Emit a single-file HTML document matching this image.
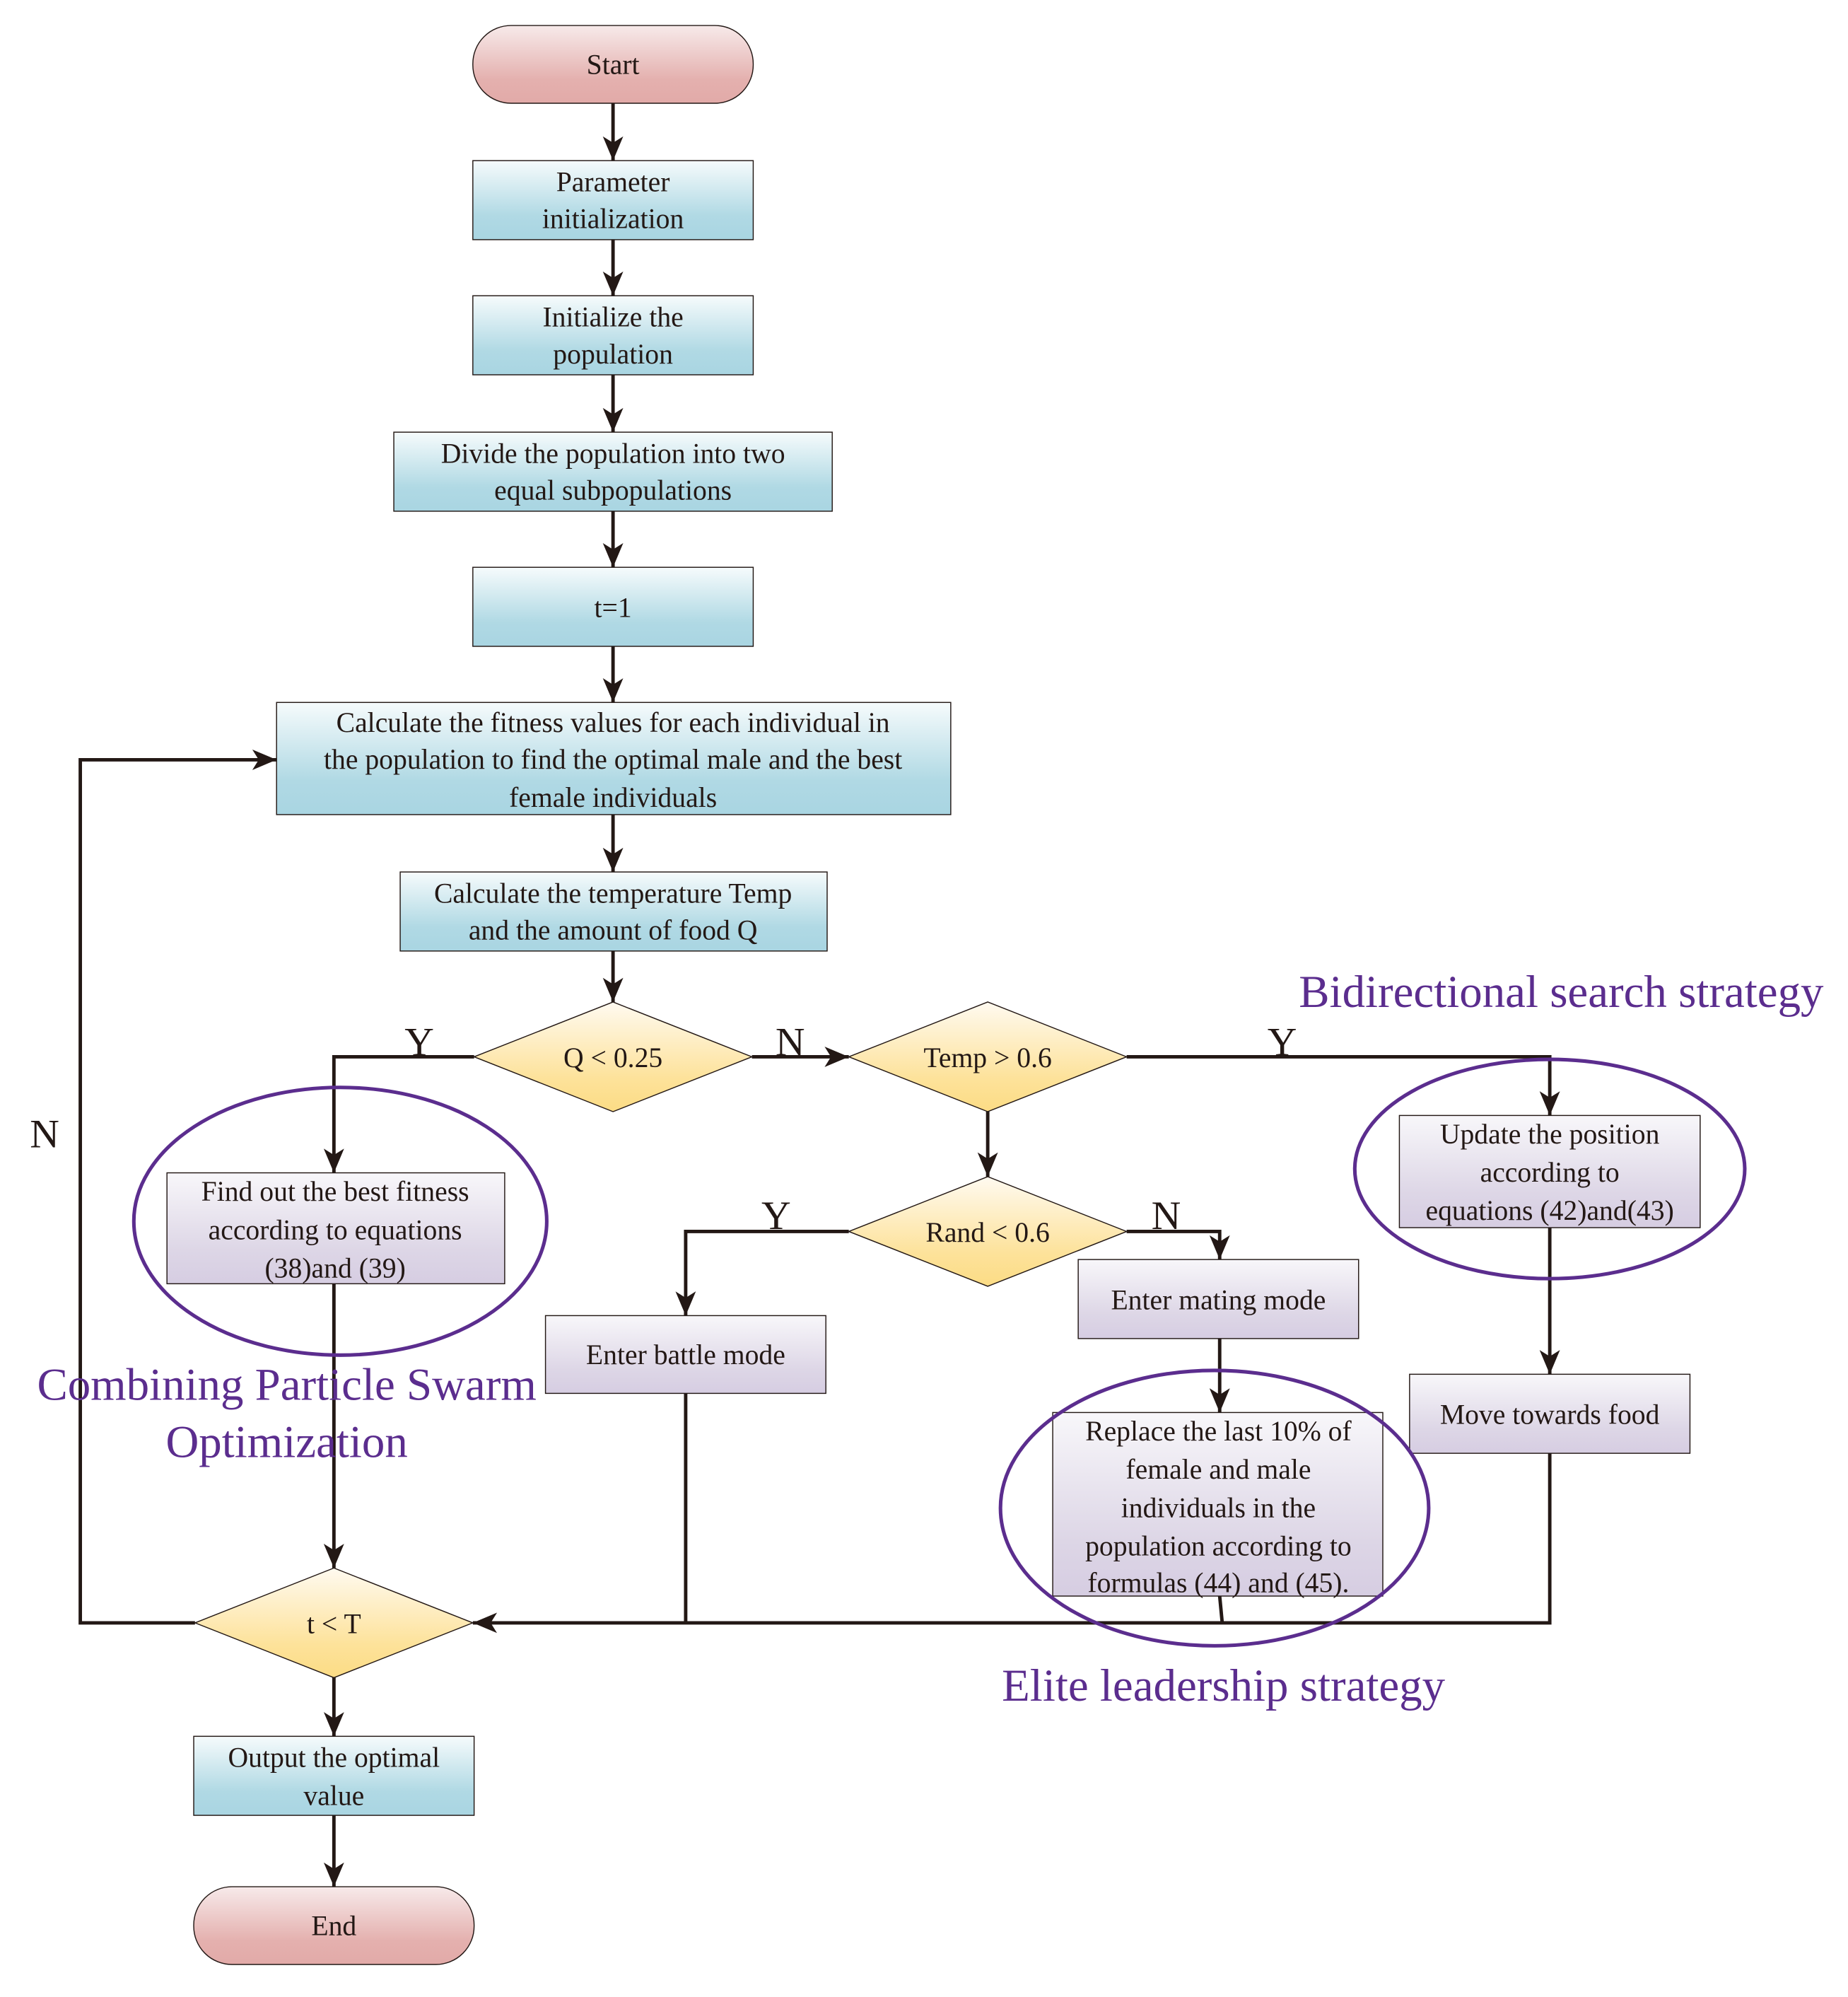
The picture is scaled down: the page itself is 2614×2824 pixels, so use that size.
<!DOCTYPE html>
<html><head><meta charset="utf-8"><style>html,body{margin:0;padding:0;background:#fff}svg{display:block}</style></head>
<body>
<svg width="2614" height="2824" viewBox="0 0 1450 1566.5" xmlns="http://www.w3.org/2000/svg" font-family="'Liberation Serif', serif">
<defs>
<linearGradient id="blue" x1="0" y1="0" x2="0" y2="1"><stop offset="0" stop-color="#f6fbfc"/><stop offset="0.7" stop-color="#b0d9e4"/><stop offset="1" stop-color="#a9d5e2"/></linearGradient>
<linearGradient id="lav" x1="0" y1="0" x2="0" y2="1"><stop offset="0" stop-color="#f8f7fa"/><stop offset="0.7" stop-color="#ddd6e6"/><stop offset="1" stop-color="#d6cde2"/></linearGradient>
<linearGradient id="yel" x1="0" y1="0" x2="0" y2="1"><stop offset="0" stop-color="#fffaf0"/><stop offset="0.7" stop-color="#fde29a"/><stop offset="1" stop-color="#fcdc85"/></linearGradient>
<linearGradient id="red" x1="0" y1="0" x2="0" y2="1"><stop offset="0" stop-color="#f7eaea"/><stop offset="0.7" stop-color="#e4b0ae"/><stop offset="1" stop-color="#e2aaa8"/></linearGradient>
<marker id="a" markerWidth="20" markerHeight="16" refX="19" refY="8" orient="auto" markerUnits="userSpaceOnUse"><path d="M0,0 L19,8 L0,16 L5,8 Z" fill="#231815"/></marker>
</defs>
<g stroke="#231815" stroke-width="0.8">
<rect x="371" y="20" width="220" height="61" rx="30" fill="url(#red)"/>
<rect x="371" y="126" width="220" height="62" fill="url(#blue)"/>
<rect x="371" y="232" width="220" height="62" fill="url(#blue)"/>
<rect x="309" y="339" width="344" height="62" fill="url(#blue)"/>
<rect x="371" y="445" width="220" height="62" fill="url(#blue)"/>
<rect x="217" y="551" width="529" height="88" fill="url(#blue)"/>
<rect x="314" y="684" width="335" height="62" fill="url(#blue)"/>
<polygon points="372,829 481,786 590,829 481,872" fill="url(#yel)"/>
<polygon points="666,829 775,786 884,829 775,872" fill="url(#yel)"/>
<polygon points="666,966 775,923 884,966 775,1009" fill="url(#yel)"/>
<polygon points="153,1273 262,1230 371,1273 262,1316" fill="url(#yel)"/>
<rect x="131" y="920" width="265" height="87" fill="url(#lav)"/>
<rect x="428" y="1032" width="220" height="61" fill="url(#lav)"/>
<rect x="846" y="988" width="220" height="62" fill="url(#lav)"/>
<rect x="826" y="1108" width="259" height="144" fill="url(#lav)"/>
<rect x="1098" y="875" width="236" height="88" fill="url(#lav)"/>
<rect x="1106" y="1078" width="220" height="62" fill="url(#lav)"/>
<rect x="152" y="1362" width="220" height="62" fill="url(#blue)"/>
<rect x="152" y="1480" width="220" height="61" rx="30" fill="url(#red)"/>
</g>
<g stroke="#231815" stroke-width="2.7" fill="none">
<path d="M481,81 V126" marker-end="url(#a)"/>
<path d="M481,188 V232" marker-end="url(#a)"/>
<path d="M481,294 V339" marker-end="url(#a)"/>
<path d="M481,401 V445" marker-end="url(#a)"/>
<path d="M481,507 V551" marker-end="url(#a)"/>
<path d="M481,639 V684" marker-end="url(#a)"/>
<path d="M481,746 V786" marker-end="url(#a)"/>
<path d="M372,829 H262 V920" marker-end="url(#a)"/>
<path d="M590,829 H666" marker-end="url(#a)"/>
<path d="M884,829 H1216 V875" marker-end="url(#a)"/>
<path d="M775,872 V923" marker-end="url(#a)"/>
<path d="M666,966 H538 V1032" marker-end="url(#a)"/>
<path d="M884,966 H957 V988" marker-end="url(#a)"/>
<path d="M957,1050 V1108" marker-end="url(#a)"/>
<path d="M1216,963 V1078" marker-end="url(#a)"/>
<path d="M262,1007 V1230" marker-end="url(#a)"/>
<path d="M262,1316 V1362" marker-end="url(#a)"/>
<path d="M262,1424 V1480" marker-end="url(#a)"/>
<path d="M153,1273 H63 V596 H217" marker-end="url(#a)"/>
<path d="M1216,1140 V1273 H371" marker-end="url(#a)"/>
<path d="M538,1093 V1273"/>
<path d="M957,1252 L959,1273"/>
</g>
<g stroke="#5b2d8e" stroke-width="2.8" fill="none">
<ellipse cx="267" cy="958" rx="162" ry="105"/>
<ellipse cx="1216" cy="917" rx="153" ry="86"/>
<ellipse cx="953" cy="1183" rx="168" ry="108"/>
</g>
<g font-size="22" fill="#231815" text-anchor="middle">
<text x="481" y="58">Start</text>
<text x="481" y="150">Parameter</text><text x="481" y="179">initialization</text>
<text x="481" y="256">Initialize the</text><text x="481" y="285">population</text>
<text x="481" y="363">Divide the population into two</text><text x="481" y="392">equal subpopulations</text>
<text x="481" y="484">t=1</text>
<text x="481" y="574">Calculate the fitness values for each individual in</text>
<text x="481" y="603">the population to find the optimal male and the best</text>
<text x="481" y="633">female individuals</text>
<text x="481" y="708">Calculate the temperature Temp</text><text x="481" y="737">and the amount of food Q</text>
<text x="481" y="837">Q &lt; 0.25</text>
<text x="775" y="837">Temp &gt; 0.6</text>
<text x="775" y="974">Rand &lt; 0.6</text>
<text x="262" y="1281">t &lt; T</text>
<text x="263" y="942">Find out the best fitness</text><text x="263" y="972">according to equations</text><text x="263" y="1002">(38)and (39)</text>
<text x="538" y="1070">Enter battle mode</text>
<text x="956" y="1027">Enter mating mode</text>
<text x="956" y="1130">Replace the last 10% of</text><text x="956" y="1160">female and male</text><text x="956" y="1190">individuals in the</text><text x="956" y="1220">population according to</text><text x="956" y="1249">formulas (44) and (45).</text>
<text x="1216" y="897">Update the position</text><text x="1216" y="927">according to</text><text x="1216" y="957">equations (42)and(43)</text>
<text x="1216" y="1117">Move towards food</text>
<text x="262" y="1386">Output the optimal</text><text x="262" y="1416">value</text>
<text x="262" y="1518">End</text>
</g>
<g font-size="32" fill="#231815" text-anchor="middle">
<text x="329" y="828">Y</text>
<text x="620" y="828">N</text>
<text x="1006" y="828">Y</text>
<text x="609" y="964">Y</text>
<text x="915" y="964">N</text>
<text x="35" y="900">N</text>
</g>
<g font-size="36" fill="#5b2d8e" text-anchor="middle">
<text x="1225" y="790">Bidirectional search strategy</text>
<text x="225" y="1098">Combining Particle Swarm</text>
<text x="225" y="1143">Optimization</text>
<text x="960" y="1334">Elite leadership strategy</text>
</g>
</svg>
</body></html>
